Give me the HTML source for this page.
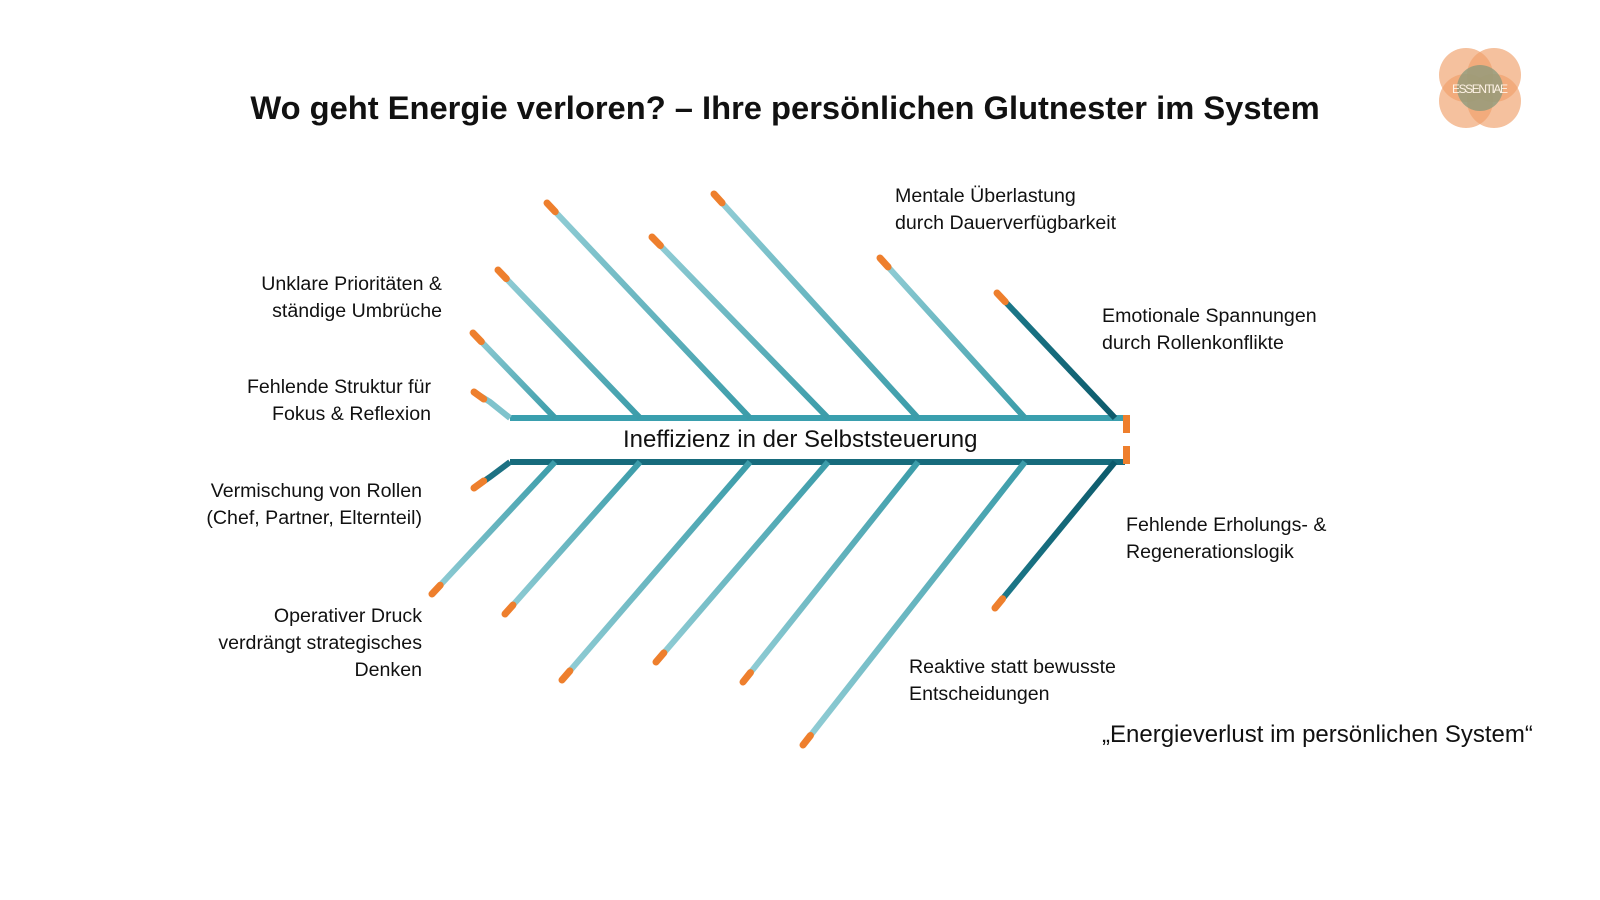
<!DOCTYPE html>
<html><head><meta charset="utf-8"><style>
body{margin:0;background:#fff;width:1600px;height:900px;overflow:hidden;position:relative;font-family:"Liberation Sans",sans-serif;color:#111}
.t{position:absolute;font-size:19.6px;line-height:27px;white-space:nowrap}
.r{text-align:right}
h1{position:absolute;left:0;width:1600px;top:89px;margin:0;text-align:center;font-size:32.7px;font-weight:bold;color:#111;padding-right:30px;box-sizing:border-box}
</style></head><body>
<h1>Wo geht Energie verloren? – Ihre persönlichen Glutnester im System</h1>
<svg width="1600" height="900" style="position:absolute;left:0;top:0">
<defs>
<linearGradient id="gt" x1="0" y1="0" x2="1" y2="1"><stop offset="0" stop-color="#93ced6"/><stop offset="1" stop-color="#3b9ca9"/></linearGradient>
<linearGradient id="gb" x1="0" y1="1" x2="1" y2="0"><stop offset="0" stop-color="#93ced6"/><stop offset="1" stop-color="#3b9ca9"/></linearGradient>
<linearGradient id="gd" x1="0" y1="0" x2="1" y2="1"><stop offset="0" stop-color="#1d7a8b"/><stop offset="1" stop-color="#0d5a6b"/></linearGradient>
<linearGradient id="gdb" x1="0" y1="1" x2="1" y2="0"><stop offset="0" stop-color="#1d7a8b"/><stop offset="1" stop-color="#0d5a6b"/></linearGradient>
</defs>
<g stroke-width="6" fill="none" stroke-linecap="butt">
<line x1="510" y1="418" x2="1125" y2="418" stroke="#3a9fae"/>
<line x1="510" y1="462" x2="1125" y2="462" stroke="#176b7c"/>
<polyline points="474,392 490,402 510,418" stroke="#7fc3cc"/>
<polyline points="474,488 490,477 510,462" stroke="#1d7183"/>
<line x1="473" y1="333" x2="555" y2="418" stroke="url(#gt)"/>
<line x1="498" y1="270" x2="640" y2="418" stroke="url(#gt)"/>
<line x1="547" y1="203" x2="750" y2="418" stroke="url(#gt)"/>
<line x1="652" y1="237" x2="828" y2="418" stroke="url(#gt)"/>
<line x1="714" y1="194" x2="918" y2="418" stroke="url(#gt)"/>
<line x1="880" y1="258" x2="1025" y2="418" stroke="url(#gt)"/>
<line x1="997" y1="293" x2="1115" y2="418" stroke="url(#gd)"/>
<line x1="432" y1="594" x2="555" y2="462" stroke="url(#gb)"/>
<line x1="505" y1="614" x2="640" y2="462" stroke="url(#gb)"/>
<line x1="562" y1="680" x2="750" y2="462" stroke="url(#gb)"/>
<line x1="656" y1="662" x2="828" y2="462" stroke="url(#gb)"/>
<line x1="743" y1="682" x2="918" y2="462" stroke="url(#gb)"/>
<line x1="803" y1="745" x2="1025" y2="462" stroke="url(#gb)"/>
<line x1="995" y1="608" x2="1115" y2="462" stroke="url(#gdb)"/>
</g>
<g stroke="#ee7f2d" stroke-width="7" fill="none" stroke-dasharray="12 3000" stroke-linecap="round">
<line x1="474" y1="392" x2="510" y2="418"/>
<line x1="474" y1="488" x2="510" y2="462"/>
<line x1="473" y1="333" x2="555" y2="418"/>
<line x1="498" y1="270" x2="640" y2="418"/>
<line x1="547" y1="203" x2="750" y2="418"/>
<line x1="652" y1="237" x2="828" y2="418"/>
<line x1="714" y1="194" x2="918" y2="418"/>
<line x1="880" y1="258" x2="1025" y2="418"/>
<line x1="997" y1="293" x2="1115" y2="418"/>
<line x1="432" y1="594" x2="555" y2="462"/>
<line x1="505" y1="614" x2="640" y2="462"/>
<line x1="562" y1="680" x2="750" y2="462"/>
<line x1="656" y1="662" x2="828" y2="462"/>
<line x1="743" y1="682" x2="918" y2="462"/>
<line x1="803" y1="745" x2="1025" y2="462"/>
<line x1="995" y1="608" x2="1115" y2="462"/>
</g>
<rect x="1123" y="415" width="7" height="18" fill="#ee7f2d"/>
<rect x="1123" y="446" width="7" height="18" fill="#ee7f2d"/>
<g>
<circle cx="1466" cy="75" r="27" fill="#f0a06a" opacity="0.65"/>
<circle cx="1494" cy="75" r="27" fill="#f0a06a" opacity="0.65"/>
<circle cx="1466" cy="101" r="27" fill="#f0a06a" opacity="0.65"/>
<circle cx="1494" cy="101" r="27" fill="#f0a06a" opacity="0.65"/>
<circle cx="1480" cy="88" r="23" fill="#8f9a7a" opacity="0.8"/>
<text x="1480" y="93" text-anchor="middle" font-family="Liberation Sans,sans-serif" font-size="12" fill="#fff3e6" textLength="56">ESSENTIAE</text>
</g>
</svg>
<div class="t" style="left:623px;top:425px;font-size:24px;line-height:30px">Ineffizienz in der Selbststeuerung</div>
<div class="t r" style="right:1158px;top:271px">Unklare Prioritäten &amp;<br>ständige Umbrüche</div>
<div class="t r" style="right:1169px;top:374px">Fehlende Struktur für<br>Fokus &amp; Reflexion</div>
<div class="t r" style="right:1178px;top:478px">Vermischung von Rollen<br>(Chef, Partner, Elternteil)</div>
<div class="t r" style="right:1178px;top:603px">Operativer Druck<br>verdrängt strategisches<br>Denken</div>
<div class="t" style="left:895px;top:183px">Mentale Überlastung<br>durch Dauerverfügbarkeit</div>
<div class="t" style="left:1102px;top:303px">Emotionale Spannungen<br>durch Rollenkonflikte</div>
<div class="t" style="left:1126px;top:512px">Fehlende Erholungs- &amp;<br>Regenerationslogik</div>
<div class="t" style="left:909px;top:654px">Reaktive statt bewusste<br>Entscheidungen</div>
<div class="t" style="left:1102px;top:721px;font-size:24px">„Energieverlust im persönlichen System“</div>
</body></html>
